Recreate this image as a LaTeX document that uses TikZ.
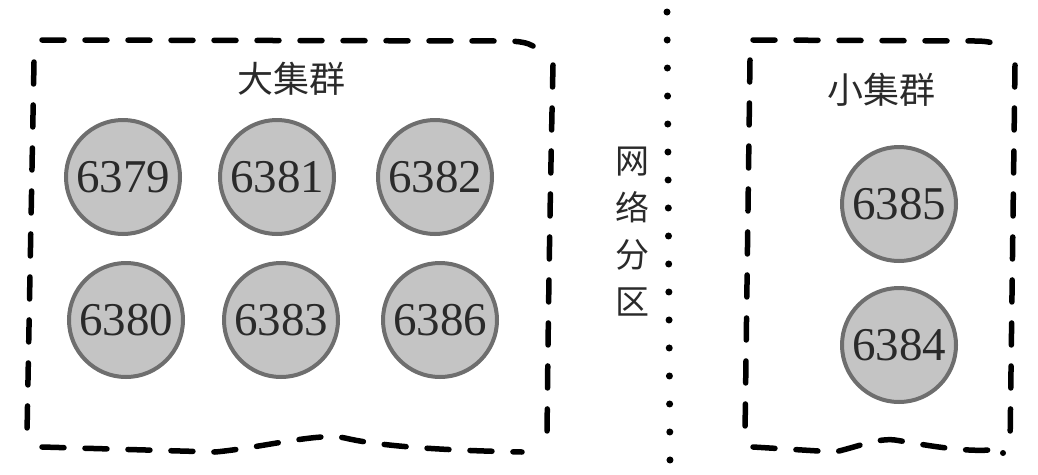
\documentclass[tikz,border=0pt]{standalone}
\usepackage{fontspec}
\setmainfont{Liberation Serif}
\newfontfamily\cjk{Noto Sans CJK SC}
\definecolor{nodefill}{HTML}{C4C4C4}
\definecolor{nodeedge}{HTML}{6E6E6E}
\definecolor{inkc}{HTML}{2A2A2A}
\begin{document}
\begin{tikzpicture}[x=1pt,y=-1pt,
  port/.style={circle,draw=nodeedge,fill=nodefill,line width=4pt,minimum size=114pt,inner sep=0pt,
    text=inkc,font=\fontsize{47}{50}\selectfont},
  fence/.style={draw=black,line width=5.5pt,line cap=round,dash pattern=on 22pt off 21pt},
  title/.style={text=inkc,font=\cjk\fontsize{36}{40}\selectfont}]
\useasboundingbox[fill=white] (0,0) rectangle (1038,474);
% large cluster box
\draw[fence] (42,40) -- (505,41) .. controls (520,41) and (528,43) .. (533,46);
\draw[fence] (34,62) -- (27,433);
\draw[fence] (553,65) .. controls (550,200) and (548,330) .. (547,437);
\draw[fence] (42,447) -- (215,452) .. controls (260,448) and (320,432) .. (345,438) .. controls (370,444) and (420,450) .. (522,452);
% small cluster box
\draw[fence] (753,40) -- (975,41) .. controls (988,41) and (994,43) .. (997,45);
\draw[fence] (750,60) -- (745,433);
\draw[fence] (1015,65) -- (1010,447);
\draw[fence] (753,447) -- (835,452) .. controls (860,446) and (878,438) .. (895,440) .. controls (920,444) and (960,452) .. (990,450);
\fill (1003,453) circle (3pt);
% partition line
\draw[line width=7pt,line cap=round,dash pattern=on 0pt off 28pt] (667,12) -- (670,462);
% titles
\node[title] (big) at (291,79) {大集群};
\node[title] (small) at (881,90) {小集群};
\node[title,align=center,font=\cjk\fontsize{34}{47}\selectfont] (part) at (632,232) {网\\络\\分\\区};
% ports
\node[port] (p6379) at (123,177) {6379};
\node[port] (p6381) at (277,177) {6381};
\node[port] (p6382) at (435,177) {6382};
\node[port] (p6380) at (126,320) {6380};
\node[port] (p6383) at (281,320) {6383};
\node[port] (p6386) at (440,320) {6386};
\node[port] (p6385) at (899,204) {6385};
\node[port] (p6384) at (899,345) {6384};
\end{tikzpicture}
\end{document}
